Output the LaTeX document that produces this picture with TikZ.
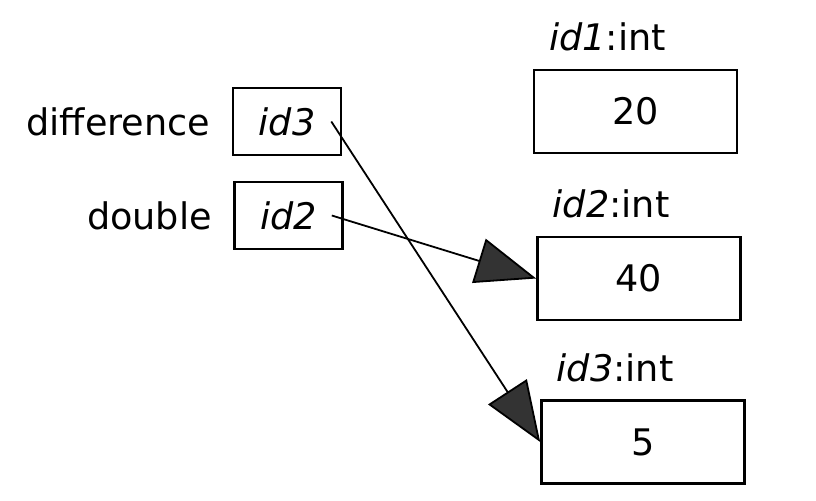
\documentclass[tikz,border=0pt]{standalone}
\usepackage{fontspec}
\setmainfont{DejaVu Sans}
\usetikzlibrary{arrows.meta,positioning}
\tikzstyle{ref} = [rectangle, draw, line width=1.3pt, minimum width=54pt,
    minimum height=33.5pt, inner sep=0pt]
\tikzstyle{val} = [rectangle, draw, line width=1.3pt, minimum width=101.5pt,
    minimum height=41.5pt, inner sep=0pt]
\tikzstyle{vname} = [inner sep=0pt]
\tikzstyle{ptr} = [-{Triangle[length=30pt,width=23pt,fill=black!80]},
    line width=0.9pt]

\begin{document}
\begin{tikzpicture}[x=0.5pt,y=-0.5pt,font=\fontsize{18.3}{22}\selectfont]
  \useasboundingbox (0,0) rectangle (816,500);

  % variables on the left
  \node[ref] (ref3) at (287,121.5) {\textit{id3}};
  \node[ref] (ref2) at (288.5,215.5) {\textit{id2}};
  \node[vname, left=10.5pt of ref3] (difference) {difference};
  \node[vname, left=10.5pt of ref2] (double) {double};

  % objects on the right
  \node[val] (val1) at (635.5,111.5) {20};
  \node[val] (val2) at (639,278.5)   {40};
  \node[val] (val3) at (643,442)     {5};
  \node[vname, above right=8.5pt and 8pt of val1.north west] (type1) {\textit{id1}:int};
  \node[vname, above right=8.5pt and 8pt of val2.north west] (type2) {\textit{id2}:int};
  \node[vname, above right=8.5pt and 8pt of val3.north west] (type3) {\textit{id3}:int};

  % references
  \coordinate (p3) at ([xshift=-5.5pt]ref3.east);
  \coordinate (p2) at ([xshift=-6pt]ref2.east);
  \draw[ptr] (p2) -- (val2.west);
  \draw[ptr] (p3) -- (val3.west);
\end{tikzpicture}
\end{document}
